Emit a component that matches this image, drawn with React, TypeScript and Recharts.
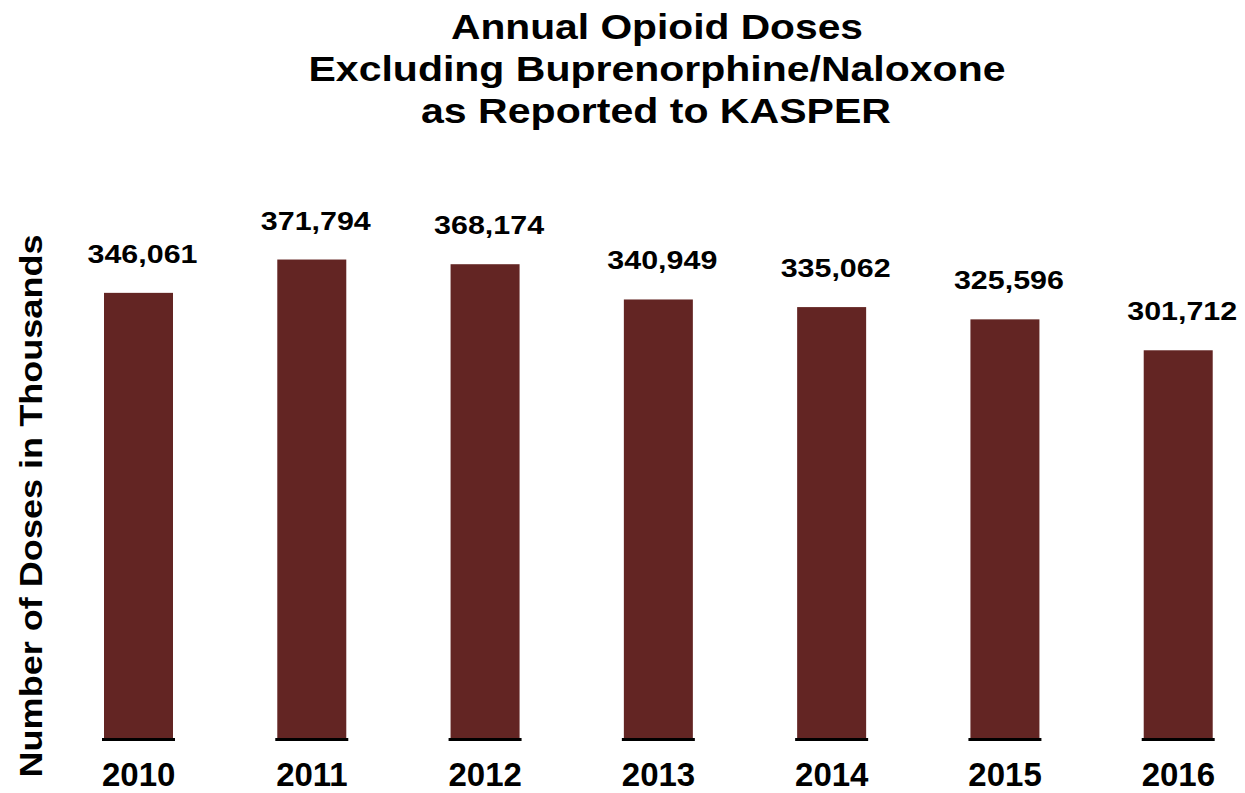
import React from 'react';
import { BarChart, Bar, XAxis, YAxis, LabelList } from 'recharts';

const years = ['2010', '2011', '2012', '2013', '2014', '2015', '2016'];
const doses = [346061, 371794, 368174, 340949, 335062, 325596, 301712];
const titleLines = [
  'Annual Opioid Doses',
  'Excluding Buprenorphine/Naloxone',
  'as Reported to KASPER',
];
const yAxisTitle = 'Number of Doses in Thousands';

const BAR_COLOR = '#632523';
const FONT = '"Liberation Sans", Arial, sans-serif';

const chartData = years.map((year, i) => ({ year, doses: doses[i] }));

// bar plus the short black base line drawn under each bar
const BarWithBase = (props: any) => {
  const { x, y, width, height } = props;
  return (
    <g>
      <rect x={x} y={y} width={width} height={height} fill={BAR_COLOR} />
      <line
        x1={x - 2}
        x2={x + width + 2}
        y1={y + height - 1.5}
        y2={y + height - 1.5}
        stroke="#000"
        strokeWidth={3}
      />
    </g>
  );
};

// value label above each bar, a bit wider than the plain font
const ValueLabel = (props: any) => {
  const { x, y, width, value } = props;
  return (
    <text
      x={x + width / 2 + 4}
      y={y - 30}
      textAnchor="middle"
      fontFamily={FONT}
      fontWeight="bold"
      fontSize={26}
      fill="#000"
      textLength={110}
      lengthAdjust="spacingAndGlyphs"
    >
      {Number(value).toLocaleString('en-US')}
    </text>
  );
};

export default function App() {
  return (
    <div
      style={{
        position: 'absolute',
        left: 0,
        top: 0,
        width: 1245,
        height: 793,
        overflow: 'hidden',
        background: '#fff',
      }}
    >
      <BarChart
        width={1300}
        height={793}
        data={chartData}
        margin={{ top: 223, right: 35, left: 52, bottom: 0 }}
      >
        <XAxis
          dataKey="year"
          height={52}
          axisLine={false}
          tickLine={false}
          tickMargin={16}
          tick={{ fontSize: 33, fontWeight: 'bold', fill: '#000', fontFamily: FONT }}
        />
        <YAxis hide domain={[0, 400000]} />
        <Bar dataKey="doses" barSize={69} shape={<BarWithBase />} isAnimationActive={false}>
          <LabelList dataKey="doses" content={<ValueLabel />} />
        </Bar>
      </BarChart>
      <svg
        width={1245}
        height={793}
        style={{ position: 'absolute', left: 0, top: 0, pointerEvents: 'none' }}
      >
        <g fontFamily={FONT} fontWeight="bold" fill="#000" textAnchor="middle">
          <text x={657} y={39} fontSize={35} textLength={412} lengthAdjust="spacingAndGlyphs">
            {titleLines[0]}
          </text>
          <text x={657} y={81} fontSize={35} textLength={697} lengthAdjust="spacingAndGlyphs">
            {titleLines[1]}
          </text>
          <text x={656} y={123} fontSize={35} textLength={470} lengthAdjust="spacingAndGlyphs">
            {titleLines[2]}
          </text>
          <text
            x={0}
            y={0}
            fontSize={31}
            textLength={543}
            lengthAdjust="spacingAndGlyphs"
            transform="translate(42 506) rotate(-90)"
          >
            {yAxisTitle}
          </text>
        </g>
      </svg>
    </div>
  );
}
